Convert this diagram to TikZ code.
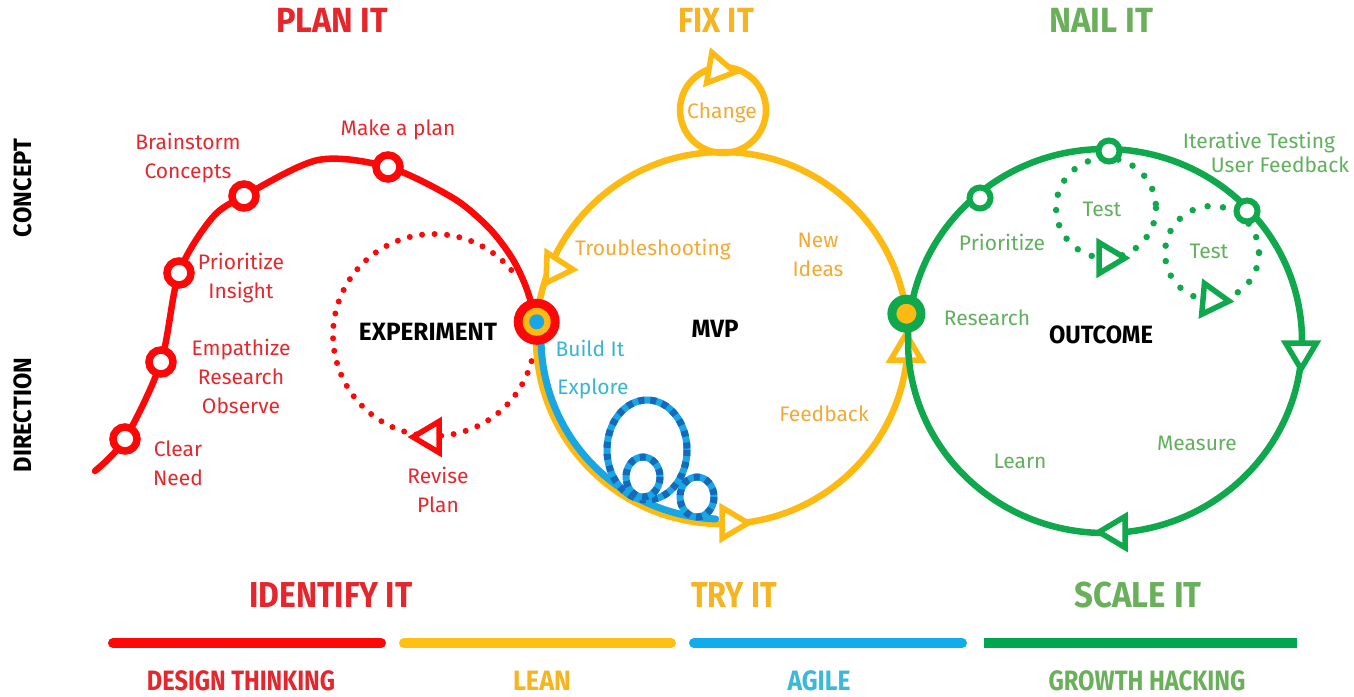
\documentclass[tikz,border=0pt]{standalone}
\usepackage{fontspec}
\setmainfont{Fira Sans}
\usepackage{graphicx}
\usetikzlibrary{calc}
\definecolor{rline}{RGB}{252,8,8}
\definecolor{rtext}{RGB}{228,40,46}
\definecolor{yline}{RGB}{253,186,18}
\definecolor{ytext}{RGB}{242,170,52}
\definecolor{gline}{RGB}{16,168,76}
\definecolor{gtext}{RGB}{96,176,92}
\definecolor{bline}{RGB}{24,166,228}
\definecolor{bdark}{RGB}{22,104,186}
\definecolor{btext}{RGB}{56,180,214}
\definecolor{rhead}{RGB}{229,38,44}
\definecolor{yhead}{RGB}{245,180,32}
\definecolor{ghead}{RGB}{106,176,90}
\definecolor{bhead}{RGB}{60,184,216}
\definecolor{ybar}{RGB}{255,192,20}
\definecolor{bbar}{RGB}{16,172,236}
\definecolor{gbar}{RGB}{0,166,80}
\newcommand{\fitw}[2]{\resizebox{#1pt}{\height}{#2}}
\tikzset{
  lbl/.style={font=\fontsize{21}{29}\selectfont, align=center, inner sep=0pt},
  rl/.style={lbl, text=rtext},
  yl/.style={lbl, text=ytext},
  gl/.style={lbl, text=gtext},
  bll/.style={lbl, text=btext},
  hd/.style={font=\bfseries\fontsize{35}{40}\selectfont, inner sep=0pt},
  hdb/.style={font=\bfseries\fontsize{36}{40}\selectfont, inner sep=0pt},
  ft/.style={font=\bfseries\fontsize{28}{30}\selectfont, inner sep=0pt},
  core/.style={font=\bfseries\fontsize{25}{30}\selectfont, inner sep=0pt, text=black},
  side/.style={font=\bfseries\fontsize{25}{28}\selectfont, inner sep=0pt, text=black, rotate=90},
  rpath/.style={draw=rline, line width=6.5pt, line cap=round},
  ypath/.style={draw=yline, line width=6.5pt},
  gpath/.style={draw=gline, line width=6.5pt},
  bpath/.style={draw=bline, line width=7pt, line cap=round},
  bdash/.style={draw=bdark, line width=7pt, dash pattern=on 6pt off 6pt},
  rdot/.style={draw=rline, line width=6pt, line cap=round, dash pattern=on 0pt off 12.5pt},
  gdot/.style={draw=gline, line width=6.5pt, line cap=round, dash pattern=on 0pt off 15.5pt},
  rmark/.style={circle, draw=rline, line width=7.5pt, fill=white, minimum size=24pt, inner sep=0pt},
  gmark/.style={circle, draw=gline, line width=6pt, fill=white, minimum size=21pt, inner sep=0pt},
  tri/.pic={\draw[pic actions, line width=5.5pt, fill=white, line join=miter, miter limit=3] (13,0) -- (-13,-15.5) -- (-13,15.5) -- cycle;},
}
\begin{document}
\begin{tikzpicture}[x=1pt,y=-1pt]
\path[use as bounding box, fill=white] (0,0) rectangle (1354,696);

% key coordinates
\coordinate (yc) at (722,338);
\coordinate (cc) at (723,110);
\coordinate (gc) at (1105,341);
\coordinate (rc) at (434,335);
\coordinate (Lpos) at (536.7,321.8);
\coordinate (Rpos) at (906.4,313.7);

% ---------- red (plan it) ----------
\draw[rdot, shift={(rc)}] plot[domain=15:320, samples=150] (\x:101);
\pic[draw=rline, rotate=180] at (426,437) {tri};

\coordinate (p0) at (95,471);
\coordinate (p1) at (125,439);
\coordinate (p2) at (161,362);
\coordinate (p3) at (179,273);
\coordinate (p3b) at (212,218);
\coordinate (p4) at (244,196);
\coordinate (p5) at (318,160);
\coordinate (p6) at (388,167);
\coordinate (p7) at (453,198);
\coordinate (p8) at (489,228);
\coordinate (p9) at (512,258);
\coordinate (p10) at (526,287);
\draw[rpath] plot[smooth, tension=0.5] coordinates {(p0) (p1) (p2) (p3) (p3b) (p4) (p5) (p6) (p7) (p8) (p9) (p10) (Lpos)};

% ---------- yellow (fix it) ----------
\draw[ypath] (yc) circle[radius=186];
\draw[ypath] (cc) circle[radius=43];
\pic[draw=yline, rotate=-10] at (722,70) {tri};
\pic[draw=yline, rotate=237] at (553,272) {tri};
\pic[draw=yline, rotate=0] at (735,523) {tri};
\pic[draw=yline, rotate=90] at (906,347) {tri};

% ---------- blue (try it) ----------
\draw[bpath, shift={(yc)}] plot[domain=185:92, samples=90] (\x:181);
\coordinate (bl1) at (647,450);
\coordinate (bl2) at (643,477);
\coordinate (bl3) at (697,497);
\draw[draw=bline, line width=7pt] (bl1) ellipse[x radius=40, y radius=50];
\draw[bdash] (bl1) ellipse[x radius=40, y radius=50];
\draw[draw=bline, line width=7pt] (bl2) ellipse[x radius=17, y radius=20];
\draw[bdash] (bl2) ellipse[x radius=17, y radius=20];
\draw[draw=bline, line width=7pt] (bl3) ellipse[x radius=17, y radius=20];
\draw[bdash] (bl3) ellipse[x radius=17, y radius=20];

% ---------- green (nail it) ----------
\draw[gpath] (gc) ellipse[x radius=197, y radius=192];
\coordinate (gl1) at (1106,208);
\coordinate (gl2) at (1212,253);
\draw[gdot] (gl1) circle[radius=50];
\draw[gdot] (gl2) circle[radius=47];
\pic[draw=gline, rotate=0] at (1112,258) {tri};
\pic[draw=gline, rotate=-5] at (1216,300) {tri};
\pic[draw=gline, rotate=270] at (1301,356) {tri};
\pic[draw=gline, rotate=180] at (1112,532) {tri};

% ---------- markers ----------
\node[rmark] (m1) at (p1) {};
\node[rmark] (m2) at (p2) {};
\node[rmark] (m3) at (p3) {};
\node[rmark] (m4) at (p4) {};
\node[rmark] (m5) at (p6) {};
\node[gmark] (g1) at (980,198) {};
\node[gmark] (g2) at (1109,151) {};
\node[gmark] (g3) at (1247,211) {};

% junction nodes
\node[circle, fill=rline, minimum size=46pt, inner sep=0pt] (L) at (Lpos) {};
\node[circle, fill=yline, minimum size=28pt, inner sep=0pt] (Ly) at (Lpos) {};
\node[circle, fill=bline, minimum size=15pt, inner sep=0pt] (Lb) at (Lpos) {};
\node[circle, draw=gline, line width=9pt, fill=yline, minimum size=29pt, inner sep=0pt] (R) at (Rpos) {};

% ---------- labels ----------
\node[rl] (t1) at (188,158) {Brainstorm\\Concepts};
\node[rl] (t2) at (398,130) {Make a plan};
\node[rl] (t3) at (241,278) {Prioritize\\Insight};
\node[rl] (t4) at (241,376) {Empathize\\Research\\Observe};
\node[rl] (t5) at (178,463) {Clear\\Need};
\node[rl] (t6) at (438,490) {Revise\\Plan};
\node[core] (t7) at (428,332) {\fitw{138}{EXPERIMENT}};

\node[yl] (t8) at (722,113) {Change};
\node[yl] (t9) at (653,250) {Troubleshooting};
\node[yl] (t10) at (818,255) {New\\Ideas};
\node[yl] (t11) at (824,414) {Feedback};
\node[core] (t12) at (715,329) {\fitw{47}{MVP}};

\node[bll] (t13) at (590,348) {Build It};
\node[bll] (t14) at (593,389) {Explore};

\node[gl] (t15) at (1259,143) {Iterative Testing};
\node[gl] (t16) at (1280,165) {User Feedback};
\node[gl] (t17) at (1102,209) {Test};
\node[gl] (t18) at (1209,251) {Test};
\node[gl] (t19) at (1002,242) {Prioritize};
\node[gl] (t20) at (987,318) {Research};
\node[gl] (t21) at (1197,443) {Measure};
\node[gl] (t22) at (1020,461) {Learn};
\node[core] (t23) at (1101,335) {\fitw{104}{OUTCOME}};

% ---------- headings ----------
\node[hd, text=rhead] (h1) at (332,20) {\fitw{112}{PLAN IT}};
\node[hd, text=yhead] (h2) at (716,20) {\fitw{76}{FIX IT}};
\node[hd, text=ghead] (h3) at (1101,20) {\fitw{104}{NAIL IT}};
\node[hdb, text=rhead] (h4) at (331,595) {\fitw{163}{IDENTIFY IT}};
\node[hdb, text=yhead] (h5) at (734,595) {\fitw{86}{TRY IT}};
\node[hdb, text=ghead] (h6) at (1138,595) {\fitw{127}{SCALE IT}};

\node[side] (s1) at (23,188) {\fitw{98}{CONCEPT}};
\node[side] (s2) at (23,415) {\fitw{114}{DIRECTION}};

% ---------- bars ----------
\coordinate (b1a) at (113,643); \coordinate (b1b) at (381,643);
\coordinate (b2a) at (404,643); \coordinate (b2b) at (671,643);
\coordinate (b3a) at (694,643); \coordinate (b3b) at (962,643);
\coordinate (b4a) at (984,643); \coordinate (b4b) at (1297,643);
\draw[draw=rline, line width=10pt, line cap=round] (b1a) -- (b1b);
\draw[draw=ybar, line width=10pt, line cap=round] (b2a) -- (b2b);
\draw[draw=bbar, line width=10pt, line cap=round] (b3a) -- (b3b);
\draw[draw=gbar, line width=10pt] (b4a) -- (b4b);

\node[ft, text=rhead] (f1) at (241,681) {\fitw{188}{DESIGN THINKING}};
\node[ft, text=yhead] (f2) at (542,681) {\fitw{58}{LEAN}};
\node[ft, text=bhead] (f3) at (819,681) {\fitw{63}{AGILE}};
\node[ft, text=ghead] (f4) at (1147,681) {\fitw{197}{GROWTH HACKING}};
\end{tikzpicture}
\end{document}
